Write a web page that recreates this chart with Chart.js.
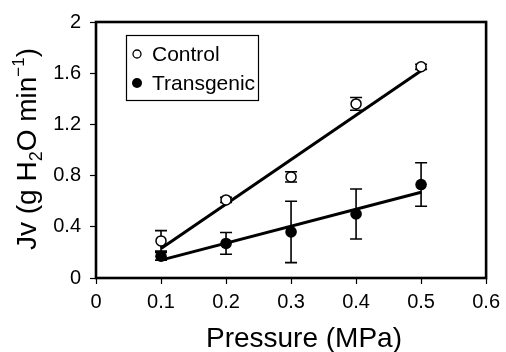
<!DOCTYPE html>
<html>
<head>
<meta charset="utf-8">
<script src="https://cdn.jsdelivr.net/npm/chart.js@4"></script>
<style>
  html, body { margin: 0; padding: 0; background: #fff; }
  #wrap { width: 506px; height: 352px; position: relative; }
</style>
</head>
<body>
<div id="wrap"><canvas id="jv-chart"></canvas></div>
<script>
// Values
const pressure = [0.1, 0.2, 0.3, 0.4, 0.5];
const controlJv = [0.29, 0.61, 0.79, 1.36, 1.65];
const controlErr = [0.08, 0.02, 0.04, 0.05, 0.02];
const transgenicJv = [0.17, 0.27, 0.36, 0.50, 0.73];
const transgenicErr = [0.03, 0.085, 0.24, 0.195, 0.17];

// Regression lines (end points)
const fitX = [0.1, 0.5];
const controlFit = [0.23, 1.62];
const transgenicFit = [0.14, 0.67];

const xTicks = [0, 0.1, 0.2, 0.3, 0.4, 0.5, 0.6];
const yTicks = [0, 0.4, 0.8, 1.2, 1.6, 2];

const FONT = "'Liberation Sans', Arial, sans-serif";

const toPoints = (xs, ys) => xs.map((x, i) => ({ x: x, y: ys[i] }));

// Vertical error bars with caps, drawn under the markers
const errorBars = {
  id: "errorBars",
  beforeDatasetsDraw(chart) {
    const ctx = chart.ctx;
    const xs = chart.scales.x, ys = chart.scales.y;
    const sets = [[controlJv, controlErr], [transgenicJv, transgenicErr]];
    ctx.save();
    ctx.strokeStyle = "#000";
    ctx.lineWidth = 1.6;
    sets.forEach(([vals, errs]) => {
      pressure.forEach((p, i) => {
        const px = xs.getPixelForValue(p);
        const top = ys.getPixelForValue(vals[i] + errs[i]);
        const bot = ys.getPixelForValue(vals[i] - errs[i]);
        ctx.beginPath();
        ctx.moveTo(px, top); ctx.lineTo(px, bot);
        ctx.moveTo(px - 6, top); ctx.lineTo(px + 6, top);
        ctx.moveTo(px - 6, bot); ctx.lineTo(px + 6, bot);
        ctx.stroke();
      });
    });
    ctx.restore();
  }
};

// Frame, legend box and axis titles
const decorations = {
  id: "decorations",
  afterDraw(chart) {
    const ctx = chart.ctx;
    const a = chart.chartArea;
    ctx.save();
    ctx.strokeStyle = "#000";
    ctx.lineWidth = 2.6;
    ctx.strokeRect(a.left, a.top, a.right - a.left, a.bottom - a.top);

    // legend
    ctx.lineWidth = 1.2;
    ctx.strokeRect(126.5, 35.5, 132, 65);
    ctx.beginPath();
    ctx.arc(137, 54, 4, 0, Math.PI * 2);
    ctx.fillStyle = "#fff"; ctx.fill();
    ctx.lineWidth = 1.3; ctx.stroke();
    ctx.beginPath();
    ctx.arc(137, 83, 5, 0, Math.PI * 2);
    ctx.fillStyle = "#000"; ctx.fill();
    ctx.font = "21px " + FONT;
    ctx.textBaseline = "alphabetic";
    ctx.textAlign = "left";
    ctx.fillText("Control", 152, 61);
    ctx.fillText("Transgenic", 152, 90);

    // x title
    ctx.font = "28px " + FONT;
    ctx.textAlign = "center";
    ctx.fillText("Pressure (MPa)", 304, 347);

    // y title with subscript and superscript
    const parts = [
      { t: "Jv (g H", size: 28, dy: 0 },
      { t: "2", size: 18, dy: 6 },
      { t: "O min", size: 28, dy: 0 },
      { t: "\u22121", size: 17, dy: -12 },
      { t: ")", size: 28, dy: 0 }
    ];
    let total = 0;
    parts.forEach(p => { ctx.font = p.size + "px " + FONT; p.w = ctx.measureText(p.t).width; total += p.w; });
    ctx.translate(36, 149);
    ctx.rotate(-Math.PI / 2);
    ctx.textAlign = "left";
    let cx = -total / 2;
    parts.forEach(p => {
      ctx.font = p.size + "px " + FONT;
      ctx.fillText(p.t, cx, p.dy);
      cx += p.w;
    });
    ctx.restore();
  }
};

new Chart(document.getElementById("jv-chart"), {
  type: "scatter",
  data: {
    datasets: [
      {
        label: "Control",
        data: toPoints(pressure, controlJv),
        pointRadius: 5,
        pointBackgroundColor: "#fff",
        pointBorderColor: "#000",
        pointBorderWidth: 1.5,
        order: 0
      },
      {
        label: "Transgenic",
        data: toPoints(pressure, transgenicJv),
        pointRadius: 5.8,
        pointBackgroundColor: "#000",
        pointBorderColor: "#000",
        pointBorderWidth: 0,
        order: 0
      },
      {
        label: "Control fit",
        data: toPoints(fitX, controlFit),
        showLine: true,
        borderColor: "#000",
        borderWidth: 3,
        pointRadius: 0,
        order: 1
      },
      {
        label: "Transgenic fit",
        data: toPoints(fitX, transgenicFit),
        showLine: true,
        borderColor: "#000",
        borderWidth: 3,
        pointRadius: 0,
        order: 1
      }
    ]
  },
  options: {
    responsive: true,
    maintainAspectRatio: false,
    animation: false,
    layout: { padding: { top: 22, right: 17, left: 0, bottom: 0 } },
    plugins: {
      legend: { display: false },
      tooltip: { enabled: false }
    },
    scales: {
      x: {
        type: "linear",
        min: 0,
        max: 0.6,
        afterBuildTicks: s => { s.ticks = xTicks.map(v => ({ value: v })); },
        afterFit: s => { s.height = 74; },
        grid: { drawOnChartArea: false, tickLength: 6, tickColor: "#000", tickWidth: 1.2 },
        border: { display: false },
        ticks: {
          color: "#000",
          padding: 6,
          maxRotation: 0,
          font: { family: FONT, size: 20 },
          callback: v => String(v)
        }
      },
      y: {
        type: "linear",
        min: 0,
        max: 2,
        afterBuildTicks: s => { s.ticks = yTicks.map(v => ({ value: v })); },
        afterFit: s => { s.width = 96; },
        grid: { drawOnChartArea: false, tickLength: 6, tickColor: "#000", tickWidth: 1.2 },
        border: { display: false },
        ticks: {
          color: "#000",
          padding: 9,
          font: { family: FONT, size: 20 },
          callback: v => String(v)
        }
      }
    }
  },
  plugins: [errorBars, decorations]
});
</script>
</body>
</html>
